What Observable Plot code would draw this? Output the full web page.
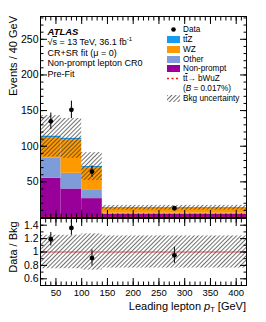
<!DOCTYPE html>
<html><head><meta charset="utf-8">
<script src="https://cdn.jsdelivr.net/npm/d3@7"></script>
<script src="https://cdn.jsdelivr.net/npm/@observablehq/plot@0.6"></script>
<style>
body{margin:0;background:#fff;font-family:"Liberation Sans",Arial,sans-serif;color:#000;}
#wrap{position:relative;width:266px;height:322px;overflow:hidden;background:#fff;}
#wrap svg.plot{position:absolute;left:0;}
.abs{position:absolute;white-space:nowrap;line-height:1;}
.ol{text-decoration:overline;}
.sup{font-size:6px;position:relative;top:-4px;line-height:0;}
.sub{font-size:7.5px;position:relative;top:2px;line-height:0;}
.leg{position:absolute;left:167px;font-size:8.2px;height:9.7px;display:flex;align-items:center;white-space:nowrap;}
.leg .sw{display:inline-block;width:13px;height:7px;margin-right:3px;flex:none;}
.rot{position:absolute;white-space:nowrap;font-size:11px;transform:translate(-50%,-50%) rotate(-90deg);}
</style></head><body>
<svg width="0" height="0" style="position:absolute">
<defs><pattern id="hatch" patternUnits="userSpaceOnUse" width="3" height="3" patternTransform="rotate(45)"><line x1="0.5" y1="0" x2="0.5" y2="3" stroke="#333" stroke-width="0.7"/></pattern></defs></svg>
<div id="wrap"></div>
<script>
// ---- data (per 40 GeV) ----
const binLo = [20, 60, 100, 140];
const binHi = [60, 100, 140, 420];
const binMid = [40, 80, 120, 280];
const nonPrompt = [55, 40, 26.5, 4.5];
const other = [28, 22, 11.5, 1.5];
const wz = [29, 47, 32, 6.7];
const ttz = [2, 2, 1.5, 1];
const bkgErr = [29, 28, 19.5, 3.3];
const signal = [0.5, 0.5, 0.4, 0.4];
const dataY = [135, 151, 64.5, 13];
const dataErr = [11.6, 12.3, 8, 1.4];
const ratioY = [1.19, 1.36, 0.91, 0.95];
const ratioErr = [0.10, 0.11, 0.12, 0.12];
const ratioBand = [0.25, 0.25, 0.27, 0.24];
const procNames = ["Non-prompt", "Other", "WZ", "ttZ"];
const procColors = ["#990099", "#7e9cd8", "#ff9900", "#169cf0"];
const yTicksMain = [50, 100, 150, 200, 250];
const xTicks = [50, 100, 150, 200, 250, 300, 350, 400];
const yTicksRatio = [0.6, 0.8, 1, 1.2, 1.4];

// ---- derived tables ----
const procVals = [nonPrompt, other, wz, ttz];
const stack = [];
const totals = [];
binLo.forEach((lo, i) => {
  let base = 0;
  procVals.forEach((vals, k) => {
    stack.push({x1: lo, x2: binHi[i], y1: base, y2: base + vals[i], name: procNames[k]});
    base += vals[i];
  });
  totals.push(base);
});
const band = binLo.map((lo, i) => ({x1: lo, x2: binHi[i], lo: totals[i] - bkgErr[i], hi: totals[i] + bkgErr[i]}));
const sig = binLo.map((lo, i) => ({x1: lo, x2: binHi[i], y: signal[i]}));
const pts = binMid.map((x, i) => ({x, y: dataY[i], lo: dataY[i] - dataErr[i], hi: dataY[i] + dataErr[i]}));
const rband = binLo.map((lo, i) => ({x1: lo, x2: binHi[i], lo: 1 - ratioBand[i], hi: 1 + ratioBand[i]}));
const rpts = binMid.map((x, i) => ({x, y: ratioY[i], lo: ratioY[i] - ratioErr[i], hi: ratioY[i] + ratioErr[i]}));

const FONT = "Liberation Sans, Arial, sans-serif";
const blank = () => "";
const xMinor = d3.range(20, 421, 10);

function tickAxes(yMajor, yMinor) {
  const m = [];
  for (const anchor of ["left", "right"]) {
    m.push(Plot.axisY({anchor, ticks: yMajor, tickSize: -7, tickFormat: blank, label: null}));
    m.push(Plot.axisY({anchor, ticks: yMinor, tickSize: -3.5, tickFormat: blank, label: null}));
  }
  for (const anchor of ["bottom", "top"]) {
    m.push(Plot.axisX({anchor, ticks: xTicks, tickSize: -7, tickFormat: blank, label: null}));
    m.push(Plot.axisX({anchor, ticks: xMinor, tickSize: -3.5, tickFormat: blank, label: null}));
  }
  return m;
}

const main = Plot.plot({
  width: 266, height: 218,
  marginLeft: 40, marginRight: 20, marginTop: 16, marginBottom: 1,
  style: {fontFamily: FONT, fontSize: "10.5px", color: "black", background: "transparent", overflow: "visible"},
  x: {domain: [20, 420]},
  y: {domain: [0, 282]},
  color: {domain: procNames, range: procColors},
  marks: [
    Plot.rect(stack, {x1: "x1", x2: "x2", y1: "y1", y2: "y2", fill: "name"}),
    Plot.rect(band, {x1: "x1", x2: "x2", y1: "lo", y2: "hi", fill: "url(#hatch)"}),
    Plot.ruleY(sig, {x1: "x1", x2: "x2", y: "y", stroke: "#ee1111", strokeWidth: 1.2, strokeDasharray: "2,2"}),
    Plot.ruleX(pts, {x: "x", y1: "lo", y2: "hi", stroke: "black", strokeWidth: 1}),
    Plot.dot(pts, {x: "x", y: "y", r: 2.4, fill: "black"}),
    Plot.axisY({ticks: yTicksMain, tickSize: 0, tickPadding: 2, label: null, fontSize: 10.5}),
    ...tickAxes(yTicksMain.concat([0]), d3.range(0, 281, 10)),
    Plot.frame({stroke: "black", strokeWidth: 1})
  ]
});

const ratio = Plot.plot({
  width: 266, height: 105,
  marginLeft: 40, marginRight: 20, marginTop: 1, marginBottom: 37,
  style: {fontFamily: FONT, fontSize: "10.5px", color: "black", background: "transparent", overflow: "visible"},
  x: {domain: [20, 420]},
  y: {domain: [0.5, 1.5]},
  marks: [
    Plot.rect(rband, {x1: "x1", x2: "x2", y1: "lo", y2: "hi", fill: "url(#hatch)"}),
    Plot.ruleY([1], {stroke: "#dd2222", strokeWidth: 0.8}),
    Plot.ruleX(rpts, {x: "x", y1: "lo", y2: "hi", stroke: "black", strokeWidth: 1}),
    Plot.dot(rpts, {x: "x", y: "y", r: 2.4, fill: "black"}),
    Plot.axisY({ticks: yTicksRatio, tickSize: 0, tickPadding: 2, label: null, fontSize: 10.5, tickFormat: d3.format("~g")}),
    Plot.axisX({ticks: xTicks, tickSize: 0, tickPadding: 3.5, label: null, fontSize: 9.5}),
    ...tickAxes(yTicksRatio, d3.range(0.5, 1.51, 0.1).map(v => +v.toFixed(2))),
    Plot.frame({stroke: "black", strokeWidth: 1})
  ]
});

const wrap = document.getElementById("wrap");
main.classList.add("plot"); ratio.classList.add("plot");
main.style.top = "0px"; ratio.style.top = "217px";
wrap.appendChild(main); wrap.appendChild(ratio);

function addHTML(html) { wrap.insertAdjacentHTML("beforeend", html); }

// axis titles
addHTML(`<div class="rot" style="left:13px;top:56px;">Events / 40 GeV</div>`);
addHTML(`<div class="rot" style="left:13px;top:247px;">Data / Bkg</div>`);
addHTML(`<div class="abs" style="right:20px;top:301px;font-size:11px;">Leading lepton <i>p</i><span class="sub">T</span> [GeV]</div>`);

// annotations
const notes = [
  `<b><i>ATLAS</i></b>`,
  `&radic;<span class="ol">s</span> = 13 TeV, 36.1 fb<span class="sup">-1</span>`,
  `CR+SR fit (&mu; = 0)`,
  `Non-prompt lepton CR0`,
  `Pre-Fit`
];
notes.forEach((t, i) => {
  const fs = i === 0 ? 9.5 : 9;
  addHTML(`<div class="abs" style="left:47.5px;top:${31.7 + i * 10.5 - 5}px;font-size:${fs}px;line-height:10px;height:10px;">${t}</div>`);
});

// legend
const legRows = [
  {sw: `<svg class="sw" width="13" height="7" style="margin-right:3px"><circle cx="6.5" cy="3.5" r="2.3" fill="black"/></svg>`, t: "Data"},
  {sw: `<span class="sw" style="background:${procColors[3]}"></span>`, t: `t<span class="ol">t</span>Z`},
  {sw: `<span class="sw" style="background:${procColors[2]}"></span>`, t: "WZ"},
  {sw: `<span class="sw" style="background:${procColors[1]}"></span>`, t: "Other"},
  {sw: `<span class="sw" style="background:${procColors[0]}"></span>`, t: "Non-prompt"},
  {sw: `<svg class="sw" width="13" height="7" style="margin-right:3px"><line x1="0" y1="3.5" x2="13" y2="3.5" stroke="#ee1111" stroke-width="1.4" stroke-dasharray="2,2.5"/></svg>`, t: `t<span class="ol">t</span>&rarr; bWuZ`},
  {sw: `<span class="sw"></span>`, t: `(<i>B</i> = 0.017%)`},
  {sw: `<svg class="sw" width="13" height="7" style="margin-right:3px"><rect width="13" height="7" fill="url(#hatch)"/></svg>`, t: "Bkg uncertainty"}
];
legRows.forEach((r, i) => {
  addHTML(`<div class="leg" style="top:${30 + i * 9.75 - 4.85}px;">${r.sw}<span>${r.t}</span></div>`);
});
</script>
</body></html>
